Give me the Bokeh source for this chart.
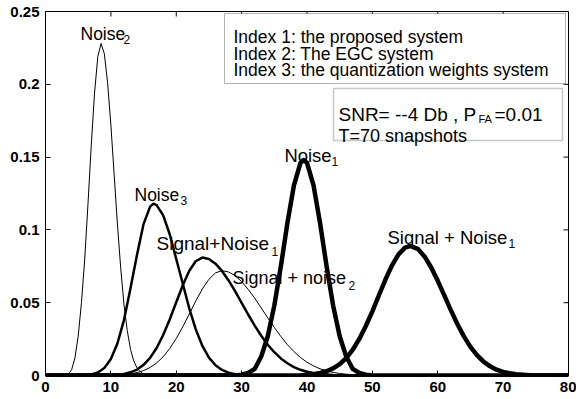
from bokeh.plotting import figure
from bokeh.models import Range1d, FixedTicker, BoxAnnotation, Label
from bokeh.embed import file_html
from bokeh.resources import INLINE

# ---------------- data ----------------
x_ticks = [0, 10, 20, 30, 40, 50, 60, 70, 80]
x_tick_labels = ["0", "10", "20", "30", "40", "50", "60", "70", "80"]
y_ticks = [0, 0.05, 0.1, 0.15, 0.2, 0.25]
y_tick_labels = ["0", "0.05", "0.1", "0.15", "0.2", "0.25"]

# Noise_2 (thin)
noise2_x = [0, 3, 3.5, 4, 4.5, 5, 5.5, 6, 6.5, 7, 7.5, 8, 8.5, 9, 9.5, 10, 10.5,
            11, 11.5, 12, 12.5, 13, 13.5, 14, 14.5, 15, 15.5, 16, 80]
noise2_y = [0, 0, 0.0008, 0.004, 0.012, 0.027, 0.05, 0.08, 0.118, 0.158, 0.194,
            0.219, 0.228, 0.221, 0.201, 0.172, 0.138, 0.104, 0.074, 0.049, 0.031,
            0.018, 0.010, 0.0052, 0.0025, 0.001, 0.0004, 0, 0]

# Noise_3 (medium)
noise3_x = [0, 6, 7, 8, 9, 10, 11, 12, 13, 14, 15, 16, 16.5, 17, 18, 19, 20, 21,
            22, 23, 24, 25, 26, 27, 28, 29, 30, 31, 32, 80]
noise3_y = [0, 0, 0.0008, 0.0021, 0.0052, 0.0113, 0.022, 0.038, 0.060, 0.083,
            0.104, 0.116, 0.118, 0.117, 0.110, 0.097, 0.080, 0.063, 0.046, 0.0315,
            0.0203, 0.0123, 0.0070, 0.0038, 0.0019, 0.0009, 0.0004, 0.0001, 0, 0]

# Signal+Noise_1 (medium, left)
sn_mid_x = [0, 9, 10, 11, 12, 13, 14, 15, 16, 17, 18, 19, 20, 21, 22, 23, 24, 25,
            26, 27, 28, 29, 30, 31, 32, 33, 34, 35, 36, 37, 38, 39, 40, 41, 42,
            44, 46, 48, 80]
sn_mid_y = [0, 0, 0.0002, 0.0005, 0.0011, 0.0022, 0.0041, 0.0073, 0.0121, 0.0189,
            0.0278, 0.0385, 0.0503, 0.062, 0.0719, 0.0786, 0.081, 0.080, 0.0768,
            0.0718, 0.0653, 0.0579, 0.0499, 0.0419, 0.0343, 0.0273, 0.0211, 0.016,
            0.0117, 0.0084, 0.0058, 0.0039, 0.0026, 0.0017, 0.0010, 0.0004,
            0.0001, 0, 0]

# Signal + noise_2 (thin)
sn2_x = [0, 9, 10, 11, 12, 13, 14, 15, 16, 17, 18, 19, 20, 21, 22, 23, 24, 25, 26,
         27, 28, 29, 30, 31, 32, 33, 34, 35, 36, 37, 38, 39, 40, 41, 42, 43, 44,
         45, 46, 48, 50, 52, 80]
sn2_y = [0, 0, 0.0001, 0.0003, 0.0006, 0.0011, 0.0020, 0.0034, 0.0055, 0.0086,
         0.0129, 0.0185, 0.0254, 0.0335, 0.0423, 0.0512, 0.0595, 0.0661, 0.0705,
         0.072, 0.0711, 0.0686, 0.0645, 0.0592, 0.0531, 0.0464, 0.0396, 0.033,
         0.0268, 0.0212, 0.0164, 0.0124, 0.0091, 0.0066, 0.0046, 0.0032, 0.0021,
         0.0014, 0.0009, 0.0003, 0.0001, 0, 0]

# Noise_1 (thick)
noise1_x = [0, 29, 30, 31, 32, 33, 34, 35, 36, 37, 38, 39, 39.5, 40, 41, 42, 43,
            44, 45, 46, 47, 48, 49, 50, 80]
noise1_y = [0, 0, 0.0005, 0.0017, 0.0045, 0.013, 0.027, 0.048, 0.0749, 0.1046,
            0.1306, 0.146, 0.148, 0.146, 0.1306, 0.1046, 0.0749, 0.048, 0.027,
            0.013, 0.0045, 0.0017, 0.0005, 0, 0]

# Signal + Noise_1 (thick, right)
sn1_x = [0, 39, 40, 41, 42, 43, 44, 45, 46, 47, 48, 49, 50, 51, 52, 53, 54, 55,
         55.8, 57, 58, 59, 60, 61, 62, 63, 64, 65, 66, 67, 68, 69, 70, 71, 72,
         74, 76, 80]
sn1_y = [0, 0, 0.0005, 0.0009, 0.0017, 0.0029, 0.0049, 0.0078, 0.012, 0.0177,
         0.0251, 0.034, 0.0441, 0.0551, 0.0659, 0.0756, 0.0832, 0.0878, 0.089,
         0.0868, 0.0816, 0.0742, 0.065, 0.055, 0.0449, 0.0354, 0.0269, 0.0197,
         0.014, 0.0095, 0.0063, 0.004, 0.0025, 0.0015, 0.0008, 0.0002, 0, 0]

# ---------------- layout helpers (pixel -> data, for annotations) ----------------
W, H = 576, 399
L, R, T, B = 45, 8, 11, 24
XMIN, XMAX, YMIN, YMAX = 0, 80, 0, 0.25
fw, fh = W - L - R, H - T - B
TICK = 5


def px2x(px):
    return XMIN + (px - L) * (XMAX - XMIN) / fw


def px2y(py):
    return YMIN + (H - B - py) * (YMAX - YMIN) / fh


FONT = "Liberation Sans"

p = figure(width=W, height=H, output_backend="svg", toolbar_location=None,
           x_range=Range1d(XMIN, XMAX), y_range=Range1d(YMIN, YMAX),
           min_border_left=L, min_border_right=R, min_border_top=T,
           min_border_bottom=B)
p.grid.visible = False
p.outline_line_color = "black"
p.outline_line_width = 1
p.background_fill_color = "white"
p.border_fill_color = "white"

for ax, ticks, labels in ((p.xaxis[0], x_ticks, x_tick_labels),
                          (p.yaxis[0], y_ticks, y_tick_labels)):
    ax.ticker = FixedTicker(ticks=ticks)
    ax.major_label_overrides = {t: s for t, s in zip(ticks, labels)}
    ax.major_tick_in = TICK
    ax.major_tick_out = 0
    ax.minor_tick_line_color = None
    ax.axis_line_color = "black"
    ax.major_tick_line_color = "black"
    ax.major_label_text_font = FONT
    ax.major_label_text_font_style = "bold"
    ax.major_label_text_font_size = "15px"
    ax.major_label_text_color = "black"
    ax.major_label_standoff = 6
p.xaxis[0].axis_line_width = 3

# inward ticks on the top and right edges of the box (MATLAB "box on")
dy = TICK * (YMAX - YMIN) / fh
dx = TICK * (XMAX - XMIN) / fw
p.segment(x0=x_ticks, y0=[YMAX] * len(x_ticks), x1=x_ticks,
          y1=[YMAX - dy] * len(x_ticks), line_color="black", line_width=1)
p.segment(x0=[XMAX] * len(y_ticks), y0=y_ticks, x1=[XMAX - dx] * len(y_ticks),
          y1=y_ticks, line_color="black", line_width=1)

# ---------------- curves ----------------
p.line(noise2_x, noise2_y, line_color="black", line_width=1, line_join="round")
p.line(sn2_x, sn2_y, line_color="black", line_width=1, line_join="round")
p.line(noise3_x, noise3_y, line_color="black", line_width=2.5, line_join="round")
p.line(sn_mid_x, sn_mid_y, line_color="black", line_width=2.5, line_join="round")
p.line(noise1_x, noise1_y, line_color="black", line_width=4.5, line_join="round")
p.line(sn1_x, sn1_y, line_color="black", line_width=4.5, line_join="round")


# ---------------- annotations ----------------
def label(text, px, py, size, color="black"):
    p.add_layout(Label(x=px2x(px), y=px2y(py), text=text, text_font=FONT,
                       text_font_size=f"{size}px", text_color=color,
                       text_baseline="alphabetic", text_align="left"))


def sub_label(main, sub, px, py, size, sx, sy, ssize=12):
    label(main, px, py, size)
    label(sub, sx, sy, ssize)


sub_label("Noise", "2", 80, 33, 17.5, 123, 39)
sub_label("Noise", "3", 134, 194, 17.5, 180, 200)
sub_label("Signal+Noise", "1", 156, 243, 19, 271, 251)
sub_label("Signal + noise", "2", 232, 277, 18, 348, 285)
sub_label("Noise", "1", 284, 155, 18.4, 331, 161)
sub_label("Signal + Noise", "1", 387, 237, 18.5, 508, 243)

p.add_layout(BoxAnnotation(left=px2x(224), right=px2x(565), top=px2y(13),
                           bottom=px2y(83), fill_color="white", fill_alpha=1,
                           line_color="black", line_width=1))
label("Index 1: the proposed system", 233, 36, 17.5)
label("Index 2: The EGC system", 233, 53, 17.5)
label("Index 3: the quantization weights system", 233, 69, 17.5)

p.add_layout(BoxAnnotation(left=px2x(333), right=px2x(562), top=px2y(88),
                           bottom=px2y(140), fill_color="white", fill_alpha=1,
                           line_color="#444444", line_width=1.5))
label("SNR= --4 Db , P", 338, 114, 19)
label("FA", 478, 118, 11)
label("=0.01", 494, 114, 19)
label("T=70 snapshots", 338, 135, 18)

open("out.html", "w").write(file_html(p, INLINE))
